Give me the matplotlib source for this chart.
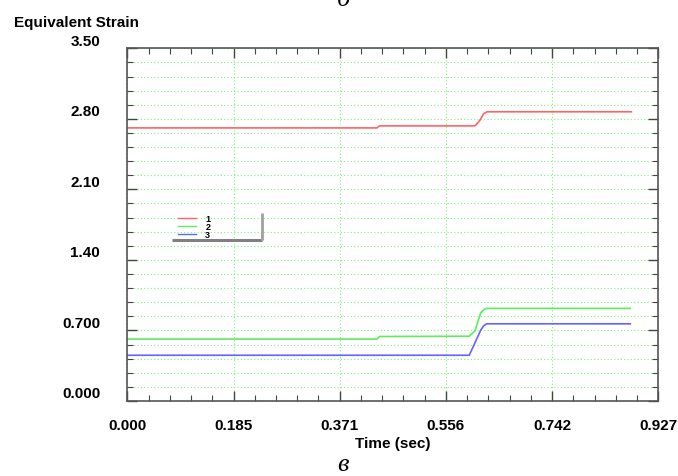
import matplotlib
matplotlib.use("Agg")
import matplotlib.pyplot as plt
from matplotlib.ticker import MultipleLocator, FixedLocator
from matplotlib.transforms import ScaledTranslation

# curva 1 (roja)
time_1 = [0.0, 0.436, 0.440, 0.607, 0.615, 0.622, 0.628, 0.880]
strain_1 = [2.71, 2.71, 2.73, 2.73, 2.78, 2.85, 2.87, 2.87]

# curva 2 (verde)
time_2 = [0.0, 0.436, 0.440, 0.597, 0.607, 0.617, 0.623, 0.628, 0.878]
strain_2 = [0.615, 0.615, 0.640, 0.643, 0.696, 0.875, 0.91, 0.919, 0.919]

# curva 3 (azul)
time_3 = [0.0, 0.597, 0.617, 0.622, 0.627, 0.878]
strain_3 = [0.454, 0.454, 0.703, 0.745, 0.766, 0.766]

xticks = [0.0, 0.1854, 0.3708, 0.5562, 0.7416, 0.927]
xlabels = ["0.000", "0.185", "0.371", "0.556", "0.742", "0.927"]
yticks = [0.0, 0.7, 1.4, 2.1, 2.8, 3.5]
ylabels = ["0.000", "0.700", "1.40", "2.10", "2.80", "3.50"]

fig = plt.figure(figsize=(6.78, 4.77), dpi=100)
ax = fig.add_axes([127.3 / 678, 1 - 402 / 477, 531 / 678, 352.7 / 477])

l1, = ax.plot(time_1, strain_1, color="#ff6464", lw=1.2, label="1")
l2, = ax.plot(time_2, strain_2, color="#5cee5c", lw=1.2, label="2")
l3, = ax.plot(time_3, strain_3, color="#6464ff", lw=1.2, label="3")

ax.set_xlim(0, 0.927)
ax.set_ylim(0, 3.5)

# ticks
ax.xaxis.set_major_locator(FixedLocator(xticks))
ax.xaxis.set_minor_locator(MultipleLocator(0.927 / 25))
ax.yaxis.set_major_locator(FixedLocator(yticks))
ax.yaxis.set_minor_locator(MultipleLocator(0.14))
ax.set_xticklabels(xlabels)
ax.set_yticklabels(ylabels)
ax.tick_params(which="both", direction="in", top=True, right=True, color="#444444")
ax.tick_params(which="major", length=7, width=1.0)
ax.tick_params(which="minor", length=4.5, width=0.8)
ax.tick_params(axis="x", pad=12)
ax.tick_params(axis="y", pad=19.5)
for lab in ax.get_xticklabels() + ax.get_yticklabels():
    lab.set_fontfamily("Liberation Sans")
    lab.set_fontweight("bold")
    lab.set_fontsize(11)
# etiquetas del eje y un poco por encima de su marca
off = ScaledTranslation(0, 9.3 / 100, fig.dpi_scale_trans)
for lab in ax.get_yticklabels():
    lab.set_transform(lab.get_transform() + off)

# cuadricula verde punteada
grid_kw = dict(color="#80f080", linestyle=(0, (1, 2)), linewidth=0.8)
ax.grid(True, which="major", axis="x", **grid_kw)
ax.grid(True, which="both", axis="y", **grid_kw)

for s in ax.spines.values():
    s.set_color("#555555")
    s.set_linewidth(1.2)

ax.set_xlabel("Time (sec)", fontfamily="Liberation Sans", fontweight="bold",
              fontsize=11, labelpad=3)
fig.text(14 / 678, 1 - 23 / 477, "Equivalent Strain", fontfamily="Liberation Sans",
         fontweight="bold", fontsize=11, ha="left", va="center")

# leyenda
leg = ax.legend(handles=[l1, l2, l3], loc="upper left",
                bbox_to_anchor=(0.084, 0.548), frameon=False,
                prop=dict(family="Liberation Sans", weight="bold", size=6.5),
                handlelength=2.0, handletextpad=1.0, labelspacing=-0.1,
                borderpad=0.2)
for h in leg.legend_handles:
    h.set_linewidth(1.0)
ax.plot([0.084, 0.253], [0.4568, 0.4568], transform=ax.transAxes,
        color="#808080", lw=2.2, solid_capstyle="butt")
ax.plot([0.253, 0.253], [0.4568, 0.5336], transform=ax.transAxes,
        color="#a0a0a0", lw=2.0, solid_capstyle="butt")

# letras de los paneles
fig.text(343 / 678, 1 - 6 / 477, "б", fontfamily="Liberation Serif", style="italic",
         fontsize=19, ha="center", va="baseline")
fig.text(343 / 678, 1 - 471 / 477, "в", fontfamily="Liberation Serif", style="italic",
         fontsize=19, ha="center", va="baseline")

fig.savefig("out.png", dpi=100)
